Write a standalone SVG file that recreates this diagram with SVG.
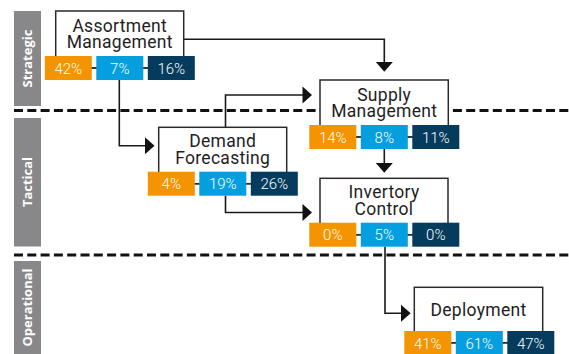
<svg xmlns="http://www.w3.org/2000/svg" width="569" height="354" viewBox="0 0 569 354">
  <style>
    .bar { fill: #88888a; }
    .bar-label { font-family: "Open Sans", "Liberation Sans", sans-serif; font-weight: 700; font-size: 13px; fill: #ffffff; text-anchor: middle; }
    .sep { stroke: #111111; stroke-width: 3; stroke-dasharray: 9 4.3; fill: none; }
    .box { fill: #ffffff; stroke: #2a2a2a; stroke-width: 1.5; }
    .label { font-family: Roboto, "Liberation Sans", sans-serif; font-size: 17.5px; letter-spacing: 0.3px; fill: #1e1e1e; text-anchor: middle; }
    .pct { font-family: Roboto, "Liberation Sans", sans-serif; font-weight: 300; font-size: 15px; fill: #ffffff; text-anchor: middle; }
    .o { fill: #f39400; }
    .b { fill: #059fdf; }
    .n { fill: #053b5c; }
    .link { stroke: #1a1a1a; stroke-width: 1.6; fill: none; }
    .tie { stroke: #2a2a2a; stroke-width: 1.5; }
    .head { fill: #111111; }
  </style>

  <!-- level bars -->
  <g id="levels">
    <rect class="bar" x="14" y="11" width="27" height="95"/>
    <text class="bar-label" transform="translate(32,58.5) rotate(-90)">Strategic</text>
    <rect class="bar" x="14" y="118" width="27" height="128.5"/>
    <text class="bar-label" transform="translate(32,182) rotate(-90)">Tactical</text>
    <rect class="bar" x="14" y="261" width="27" height="93"/>
    <text class="bar-label" transform="translate(32,307.5) rotate(-90)">Operational</text>
  </g>

  <!-- level separators -->
  <g id="separators">
    <line class="sep" x1="14" y1="110.5" x2="569" y2="110.5"/>
    <line class="sep" x1="14" y1="255" x2="569" y2="255"/>
  </g>

  <!-- connectors -->
  <g id="connectors">
    <path class="link" d="M183.7,39.3 H384.3 V63"/>
    <polygon class="head" points="375.8,62 392.8,62 384.3,71.7"/>

    <path class="link" d="M119.3,80 V145.7 H146"/>
    <polygon class="head" points="145,137.2 145,154.2 154.5,145.7"/>

    <path class="link" d="M225.5,127.3 V95 H303"/>
    <polygon class="head" points="302.5,86.5 302.5,103.5 312,95"/>

    <path class="link" d="M225.5,195.7 V212.5 H303"/>
    <polygon class="head" points="302.5,204 302.5,221 312,212.5"/>

    <path class="link" d="M384.3,149 V164"/>
    <polygon class="head" points="375.8,163 392.8,163 384.3,172.7"/>

    <path class="link" d="M385,246.7 V313.3 H402"/>
    <polygon class="head" points="401,304.8 401,321.8 410.7,313.3"/>
  </g>

  <!-- Assortment Management -->
  <g id="assortment">
    <rect class="box" x="55.7" y="11" width="128" height="57"/>
    <text class="label" x="119.7" y="31.5">Assortment</text>
    <text class="label" x="119.7" y="48.2">Management</text>
    <line class="tie" x1="45" y1="68" x2="194" y2="68"/>
    <rect class="o" x="44.8" y="56" width="47" height="24"/>
    <rect class="b" x="96.3" y="56" width="47" height="24"/>
    <rect class="n" x="147.8" y="56" width="47" height="24"/>
    <text class="pct" x="68.3" y="73.5">42%</text>
    <text class="pct" x="119.8" y="73.5">7%</text>
    <text class="pct" x="171.3" y="73.5">16%</text>
  </g>

  <!-- Supply Management -->
  <g id="supply">
    <rect class="box" x="320" y="80" width="128.3" height="57"/>
    <text class="label" x="384.2" y="101.3">Supply</text>
    <text class="label" x="384.2" y="116.9">Management</text>
    <line class="tie" x1="310" y1="137" x2="459" y2="137"/>
    <rect class="o" x="309.3" y="125" width="47" height="24"/>
    <rect class="b" x="360.8" y="125" width="47" height="24"/>
    <rect class="n" x="412.3" y="125" width="47" height="24"/>
    <text class="pct" x="332.8" y="142.5">14%</text>
    <text class="pct" x="384.3" y="142.5">8%</text>
    <text class="pct" x="435.8" y="142.5">11%</text>
  </g>

  <!-- Demand Forecasting -->
  <g id="demand">
    <rect class="box" x="158.7" y="127.3" width="128" height="56.4"/>
    <text class="label" x="222.7" y="147.1">Demand</text>
    <text class="label" x="222.7" y="164.2">Forecasting</text>
    <line class="tie" x1="148" y1="183.7" x2="297" y2="183.7"/>
    <rect class="o" x="147.8" y="171.7" width="47" height="24"/>
    <rect class="b" x="199.3" y="171.7" width="47" height="24"/>
    <rect class="n" x="250.8" y="171.7" width="47" height="24"/>
    <text class="pct" x="171.3" y="189.2">4%</text>
    <text class="pct" x="222.8" y="189.2">19%</text>
    <text class="pct" x="274.3" y="189.2">26%</text>
  </g>

  <!-- Inventory Control -->
  <g id="inventory">
    <rect class="box" x="320" y="178.3" width="128" height="56.4"/>
    <text class="label" x="384" y="198.1">Invertory</text>
    <text class="label" x="384" y="214.5">Control</text>
    <line class="tie" x1="310" y1="234.7" x2="459" y2="234.7"/>
    <rect class="o" x="309.3" y="222.7" width="47" height="24"/>
    <rect class="b" x="360.8" y="222.7" width="47" height="24"/>
    <rect class="n" x="412.3" y="222.7" width="47" height="24"/>
    <text class="pct" x="332.8" y="240.2">0%</text>
    <text class="pct" x="384.3" y="240.2">5%</text>
    <text class="pct" x="435.8" y="240.2">0%</text>
  </g>

  <!-- Deployment -->
  <g id="deployment">
    <rect class="box" x="414.3" y="287.3" width="128.4" height="55.5"/>
    <text class="label" x="478.5" y="316">Deployment</text>
    <line class="tie" x1="405" y1="342.8" x2="553" y2="342.8"/>
    <rect class="o" x="404.3" y="331" width="47" height="24"/>
    <rect class="b" x="455.8" y="331" width="47" height="24"/>
    <rect class="n" x="507.3" y="331" width="47" height="24"/>
    <text class="pct" x="427.8" y="348.5">41%</text>
    <text class="pct" x="479.3" y="348.5">61%</text>
    <text class="pct" x="530.8" y="348.5">47%</text>
  </g>
</svg>
